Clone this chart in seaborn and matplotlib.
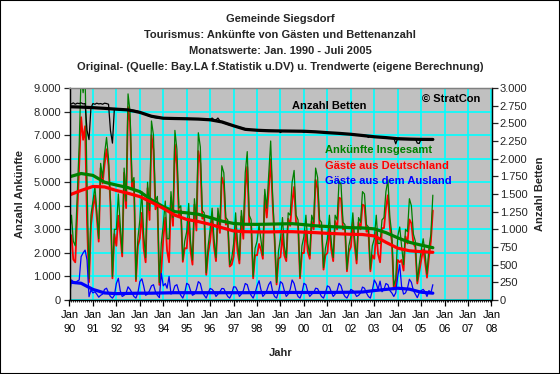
import numpy as np
import pandas as pd
import matplotlib
matplotlib.use("Agg")
import matplotlib.pyplot as plt
import matplotlib.dates as mdates
from matplotlib.ticker import FuncFormatter, MultipleLocator, FixedLocator
from matplotlib.patches import Rectangle
import seaborn as sns

sns.set_style("white")
plt.rcParams['font.family'] = ['Liberation Sans', 'DejaVu Sans']

# ---------------- data (monthly, Jan 1990 - Jul 2005) ----------------
start_month = "1990-01"

ankuenfte_insgesamt = [
    2800, 3600, 2500, 2300, 4400, 6600, 9600, 8800, 9500, 5000, 900, 3600,   # 1990
    4200, 4800, 3800, 2600, 5800, 5200, 6200, 6900, 6000, 4200, 1000, 3000,  # 1991
    3000, 4500, 3200, 2000, 5600, 4200, 8750, 8000, 5000, 5200, 880, 2600,   # 1992
    3400, 4600, 2800, 1800, 5000, 3800, 7600, 7000, 4200, 4400, 740, 2400,   # 1993
    3200, 4200, 2600, 2600, 4600, 3500, 7200, 6400, 3900, 4000, 1700, 2500,  # 1994
    2900, 4100, 2500, 1700, 4300, 3400, 7100, 6500, 3800, 3700, 1150, 2300,  # 1995
    3000, 3900, 2600, 1800, 3900, 3200, 5700, 5400, 3500, 3400, 1500, 1750,  # 1996
    2400, 3700, 2500, 1700, 3800, 3000, 5400, 6300, 3600, 3400, 1000, 2200,  # 1997
    2500, 3200, 2600, 1900, 4700, 3900, 5300, 6750, 4400, 2700, 740, 2100,   # 1998
    2600, 3500, 2300, 1800, 3700, 3600, 5000, 5500, 3600, 3400, 1000, 2300,  # 1999
    2700, 3600, 2400, 1900, 3600, 3300, 5600, 5200, 3400, 3300, 1370, 2200,  # 2000
    2600, 3600, 2500, 1800, 3600, 3400, 5050, 4900, 3300, 3200, 1300, 2300,  # 2001
    2700, 3700, 2600, 1700, 3500, 3300, 4600, 4500, 3200, 3100, 1300, 2300,  # 2002
    2600, 3600, 2400, 2400, 3400, 3500, 4600, 5100, 3500, 2800, 600, 900,    # 2003
    2700, 3100, 2300, 1500, 3000, 2900, 4300, 4000, 2800, 2500, 800, 1500,   # 2004
    2100, 2600, 2000, 1100, 2200, 2800, 4450,                                # 2005
]

gaeste_deutschland = [
    2650, 2750, 1720, 1600, 3600, 5750, 7760, 6800, 7380, 3300, 760, 3180,   # 1990
    3900, 4450, 3550, 2480, 5600, 4950, 5750, 6400, 5700, 4050, 920, 2800,   # 1991
    2300, 3580, 2800, 1850, 5400, 3900, 8190, 7550, 4700, 5050, 800, 2300,   # 1992
    2620, 3700, 2200, 1600, 4750, 3400, 7000, 6350, 3850, 4200, 640, 1270,   # 1993
    2600, 3500, 2100, 1600, 4350, 3150, 6600, 5750, 3550, 3800, 1620, 2200,  # 1994
    2190, 3450, 2100, 1500, 4050, 2950, 6320, 5800, 3450, 3500, 1070, 2000,  # 1995
    2510, 3450, 2250, 1650, 3650, 2850, 5210, 4920, 3200, 3250, 1420, 1500,  # 1996
    1840, 3150, 2100, 1550, 3550, 2600, 4700, 5650, 3250, 3200, 920, 1900,   # 1997
    1900, 2380, 2150, 1750, 4450, 3500, 4650, 5970, 4050, 2550, 660, 1750,   # 1998
    1820, 2800, 1900, 1650, 3450, 3150, 4150, 4800, 3250, 3250, 920, 2000,   # 1999
    1990, 2950, 2050, 1750, 3350, 3000, 5100, 4720, 3100, 3150, 1290, 1900,  # 2000
    2000, 3050, 2150, 1650, 3350, 3000, 4340, 4300, 3000, 3050, 1220, 2050,  # 2001
    2250, 3300, 2300, 1550, 3300, 3000, 4050, 4000, 2900, 2950, 1220, 1900,  # 2002
    1750, 2900, 1950, 1600, 3050, 3050, 3900, 4450, 3100, 2500, 450, 600,    # 2003
    1700, 1600, 1700, 1250, 2700, 2400, 3420, 3250, 2400, 2250, 700, 1200,   # 2004
    1700, 2150, 1650, 950, 1800, 2500, 3800,                                 # 2005
]

gaeste_ausland = [
    150, 850, 780, 700, 800, 850, 1840, 2000, 2120, 1700, 140, 420,  # 1990
    300, 350, 250, 120, 200, 250, 450, 500, 300, 150, 80, 200,       # 1991
    700, 920, 400, 150, 200, 300, 560, 450, 300, 150, 80, 300,       # 1992
    780, 900, 600, 200, 250, 400, 600, 650, 350, 200, 100, 1130,     # 1993
    600, 700, 500, 1000, 250, 350, 600, 650, 350, 200, 80, 300,      # 1994
    710, 650, 400, 200, 250, 450, 780, 700, 350, 200, 80, 300,       # 1995
    490, 450, 350, 150, 250, 350, 490, 480, 300, 150, 80, 250,       # 1996
    560, 550, 400, 150, 250, 400, 700, 650, 350, 200, 80, 300,       # 1997
    600, 820, 450, 150, 250, 400, 650, 780, 350, 150, 80, 350,       # 1998
    780, 700, 400, 150, 250, 450, 850, 700, 350, 150, 80, 300,       # 1999
    710, 650, 350, 150, 250, 300, 500, 480, 300, 150, 80, 300,       # 2000
    600, 550, 350, 150, 250, 400, 710, 600, 300, 150, 80, 250,       # 2001
    450, 400, 300, 150, 200, 300, 550, 500, 300, 150, 80, 400,       # 2002
    850, 700, 450, 800, 350, 450, 700, 650, 400, 300, 150, 300,      # 2003
    1000, 1500, 600, 250, 300, 500, 880, 750, 400, 250, 100, 300,    # 2004
    400, 450, 350, 150, 400, 300, 650,                               # 2005
]

betten = [
    2780, 2775, 2790, 2770, 2785, 2780, 2790, 2775, 2780, 2400, 2270, 2720,  # 1990
    2780, 2770, 2785, 2775, 2780, 2770, 2785, 2780, 2770, 2400, 2220, 2710,  # 1991
    2700, 2702, 2698, 2700, 2695, 2693, 2690, 2692, 2688, 2685, 2680, 2672,  # 1992
    2660, 2650, 2640, 2625, 2612, 2600, 2595, 2585, 2580, 2575, 2572, 2570,  # 1993
    2572, 2570, 2571, 2568, 2570, 2569, 2567, 2568, 2566, 2567, 2565, 2566,  # 1994
    2565, 2564, 2566, 2563, 2562, 2563, 2560, 2561, 2560, 2558, 2557, 2556,  # 1995
    2555, 2575, 2550, 2548, 2575, 2535, 2515, 2505, 2495, 2485, 2475, 2470,  # 1996
    2465, 2460, 2450, 2445, 2440, 2430, 2425, 2418, 2412, 2410, 2408, 2406,  # 1997
    2405, 2404, 2403, 2402, 2385, 2401, 2400, 2399, 2398, 2397, 2396, 2395,  # 1998
    2370, 2395, 2394, 2393, 2392, 2391, 2390, 2390, 2389, 2388, 2387, 2386,  # 1999
    2375, 2385, 2384, 2383, 2381, 2380, 2378, 2377, 2375, 2374, 2373, 2371,  # 2000
    2368, 2367, 2366, 2364, 2362, 2361, 2359, 2357, 2356, 2354, 2352, 2350,  # 2001
    2345, 2344, 2342, 2340, 2338, 2336, 2332, 2330, 2328, 2300, 2322, 2318,  # 2002
    2310, 2309, 2307, 2305, 2303, 2301, 2298, 2297, 2296, 2294, 2292, 2210,  # 2003
    2288, 2287, 2287, 2286, 2286, 2285, 2285, 2284, 2284, 2284, 2220, 2215,  # 2004
    2283, 2282, 2282, 2281, 2281, 2280, 2280,                                # 2005
]

# ---------------- trend values (half-yearly: Jan / Jul) ----------------
trend_start = "1990-01"
trend_insgesamt = [5230, 5370, 5290, 5000, 4880, 4770, 4600, 4250, 3960, 3750,
                   3700, 3640, 3500, 3350, 3250, 3215, 3210, 3220, 3230, 3240,
                   3200, 3150, 3120, 3100, 3070, 3060, 3020, 2860, 2640, 2450,
                   2330, 2220]
trend_deutschland = [4460, 4650, 4820, 4800, 4650, 4530, 4390, 4150, 3890, 3600,
                     3420, 3330, 3210, 3070, 2930, 2900, 2890, 2890, 2900, 2900,
                     2880, 2860, 2830, 2810, 2790, 2780, 2720, 2450, 2200, 2090,
                     2050, 2025]
trend_ausland = [760, 710, 450, 300, 270, 280, 290, 290, 300, 310,
                 310, 310, 310, 310, 310, 310, 315, 320, 320, 320,
                 320, 320, 320, 325, 330, 340, 400, 450, 500, 460,
                 330, 290]
trend_betten = [2735, 2730, 2722, 2712, 2700, 2690, 2655, 2600, 2572, 2568,
                2565, 2560, 2550, 2520, 2465, 2415, 2402, 2395, 2392, 2390,
                2388, 2380, 2368, 2358, 2345, 2328, 2310, 2298, 2282, 2276,
                2273, 2272]

tick_years = list(range(1990, 2009))
title_lines = ["Gemeinde Siegsdorf",
               "Tourismus: Ankünfte von Gästen und Bettenanzahl",
               "Monatswerte: Jan. 1990 - Juli 2005",
               "Original- (Quelle: Bay.LA f.Statistik u.DV) u. Trendwerte (eigene Berechnung)"]

# ---------------- frames ----------------
monate = pd.date_range(start_month, periods=len(ankuenfte_insgesamt), freq="MS")
df = pd.DataFrame({"Monat": monate,
                   "Insgesamt": ankuenfte_insgesamt,
                   "Deutschland": gaeste_deutschland,
                   "Ausland": gaeste_ausland,
                   "Betten": betten})
tmon = pd.date_range(trend_start, periods=len(trend_insgesamt), freq="6MS")
dft = pd.DataFrame({"Monat": tmon,
                    "Insgesamt": trend_insgesamt,
                    "Deutschland": trend_deutschland,
                    "Ausland": trend_ausland,
                    "Betten": trend_betten})

W, H = 560, 374
fig = plt.figure(figsize=(W / 100, H / 100), dpi=100)
fig.patch.set_facecolor("white")

L, R, T, B = 69.5, 491.5, 88, 300
ax = fig.add_axes([L / W, 1 - B / H, (R - L) / W, (B - T) / H])
ax.set_facecolor("#C0C0C0")
ax2 = ax.twinx()

GREEN, RED, BLUE = "#008000", "#FF0000", "#0000FF"
thin, thick = 0.9, 2.3

kw = dict(estimator=None, sort=False, legend=False)
sns.lineplot(data=df, x="Monat", y="Deutschland", color=RED, lw=1.3, ax=ax, **kw)
sns.lineplot(data=df, x="Monat", y="Insgesamt", color=GREEN, lw=thin, ax=ax, **kw)
sns.lineplot(data=df, x="Monat", y="Ausland", color=BLUE, lw=thin, ax=ax, **kw)
sns.lineplot(data=dft, x="Monat", y="Insgesamt", color=GREEN, lw=thick, ax=ax, **kw)
sns.lineplot(data=dft, x="Monat", y="Deutschland", color=RED, lw=thick, ax=ax, **kw)
sns.lineplot(data=dft, x="Monat", y="Ausland", color=BLUE, lw=thick, ax=ax, **kw)
sns.lineplot(data=df, x="Monat", y="Betten", color="black", lw=thin, ax=ax2, **kw)
sns.lineplot(data=dft, x="Monat", y="Betten", color="black", lw=thick, ax=ax2, **kw)

# axes ranges
xmin, xmax = pd.Timestamp("1990-01-01"), pd.Timestamp("2008-01-01")
ax.set_xlim(xmin, xmax)
ax.set_ylim(0, 9000)
ax2.set_ylim(0, 3000)

thousands = FuncFormatter(lambda v, p: f"{int(v):,}".replace(",", "."))
ax.yaxis.set_major_locator(MultipleLocator(1000))
ax.yaxis.set_major_formatter(thousands)
ax2.yaxis.set_major_locator(MultipleLocator(250))
ax2.yaxis.set_major_formatter(thousands)

yt = [mdates.date2num(pd.Timestamp(f"{y}-01-01")) for y in tick_years]
ax.xaxis.set_major_locator(FixedLocator(yt))
ax.set_xticklabels([f"Jan\n{y % 100:02d}" for y in tick_years], linespacing=1.55)
ax.xaxis.set_minor_locator(mdates.MonthLocator())

ax.set_axisbelow(True)
ax.grid(True, which="major", color="#00FFFF", lw=1.2)
ax2.grid(False)

for a in (ax, ax2):
    a.set_xlabel("")
    a.set_ylabel("")
    for s in a.spines.values():
        s.set_color("black")
        s.set_linewidth(0.9)
    a.spines["top"].set_color("#808080")

ax.tick_params(axis="x", which="major", direction="out", length=4, width=0.9,
               labelsize=8, pad=3, colors="black", bottom=True)
ax.tick_params(axis="x", which="minor", direction="out", length=1.5, width=0.7, bottom=True)
ax.tick_params(axis="y", direction="out", length=4, width=0.9, labelsize=8, pad=2, left=True)
ax2.tick_params(axis="y", direction="out", length=4, width=0.9, labelsize=8, pad=2, right=True)

# titles and labels
for i, line in enumerate(title_lines):
    fig.text(0.5, 1 - (19 + 16 * i) / H, line, ha="center", va="center",
             fontsize=8, fontweight="bold")
fig.text(20 / W, 1 - 194 / H, "Anzahl Ankünfte", rotation=90, ha="center", va="center",
         fontsize=8, fontweight="bold")
fig.text(540 / W, 1 - 194 / H, "Anzahl Betten", rotation=90, ha="center", va="center",
         fontsize=8, fontweight="bold")
fig.text(280.5 / W, 1 - 353 / H, "Jahr", ha="center", va="center",
         fontsize=8, fontweight="bold")

def axpos(px, py):
    return (px - L) / (R - L), (B - py) / (B - T)

labels = [("Anzahl Betten", 292, 106, "black"),
          ("© StratCon", 422, 99, "black"),
          ("Ankünfte Insgesamt", 325, 150, GREEN),
          ("Gäste aus Deutschland", 325, 166, RED),
          ("Gäste aus dem Ausland", 325, 181, BLUE)]
for txt, px, py, col in labels:
    xx, yy = axpos(px, py)
    ax2.text(xx, yy, txt, transform=ax2.transAxes, ha="left", va="center",
             fontsize=8, fontweight="bold", color=col)

fig.patches.append(Rectangle((0, 0), 1, 1, transform=fig.transFigure, fill=False,
                             edgecolor="black", lw=1.5))

fig.savefig("out.png", dpi=100)
